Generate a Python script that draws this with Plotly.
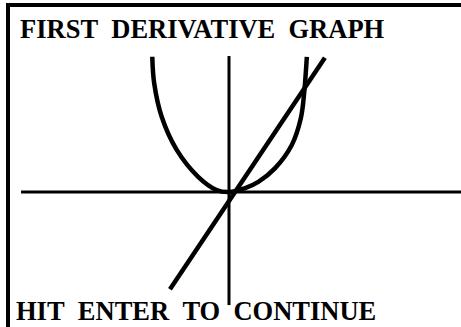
import plotly.graph_objects as go

# --- data (calculator window units) ---
# f(x): the curve (left to right)
curve_x = [-2.04, -1.99, -1.79, -1.39, -0.82, -0.33, 0.0, 0.43, 0.78, 1.22, 1.67, 1.91, 2.0, 2.07]
curve_y = [5.43, 4.37, 3.02, 1.69, 0.61, 0.08, 0.0, 0.16, 0.41, 0.95, 1.89, 2.96, 4.0, 5.43]

# f'(x): the first-derivative line (end points)
deriv_x = [-1.57, 2.55]
deriv_y = [-3.9, 5.39]

# axes extents
xaxis_x = [-5.53, 6.2]
xaxis_y = [0, 0]
yaxis_x = [0, 0]
yaxis_y = [-4.54, 5.46]

title_text = "FIRST\u00a0\u00a0DERIVATIVE\u00a0\u00a0GRAPH"
footer_text = "HIT\u00a0\u00a0ENTER\u00a0\u00a0TO\u00a0\u00a0CONTINUE"

X_RANGE = [-6.09, 6.17]
Y_RANGE = [-5.42, 7.71]

fig = go.Figure()
fig.add_trace(go.Scatter(x=xaxis_x, y=xaxis_y, mode="lines",
                         line=dict(color="black", width=3), hoverinfo="skip"))
fig.add_trace(go.Scatter(x=yaxis_x, y=yaxis_y, mode="lines",
                         line=dict(color="black", width=3), hoverinfo="skip"))
fig.add_trace(go.Scatter(x=curve_x, y=curve_y, mode="lines",
                         line=dict(color="black", width=4.5, shape="spline", smoothing=1.0)))
fig.add_trace(go.Scatter(x=deriv_x, y=deriv_y, mode="lines",
                         line=dict(color="black", width=4.5)))

W, H = 461, 327
# frame: thick top and left edges
fig.add_shape(type="line", xref="paper", yref="paper",
              x0=6 / W, x1=1, y0=1 - 5 / H, y1=1 - 5 / H,
              line=dict(color="black", width=4))
fig.add_shape(type="line", xref="paper", yref="paper",
              x0=8 / W, x1=8 / W, y0=1 - 3 / H, y1=0,
              line=dict(color="black", width=4))

font = dict(family="Liberation Serif", size=26.5, color="black", weight="bold")
fig.add_annotation(text=title_text, xref="paper", yref="paper",
                   x=18 / W, y=1 - 29 / H, xanchor="left", yanchor="middle",
                   showarrow=False, font=font)
fig.add_annotation(text=footer_text, xref="paper", yref="paper",
                   x=15 / W, y=0, xanchor="left", yanchor="bottom",
                   borderpad=0, showarrow=False, font=font)

fig.update_layout(
    width=W, height=H,
    margin=dict(l=0, r=0, t=0, b=0),
    paper_bgcolor="white", plot_bgcolor="white",
    showlegend=False,
    xaxis=dict(visible=False, range=X_RANGE, fixedrange=True),
    yaxis=dict(visible=False, range=Y_RANGE, fixedrange=True),
)

fig.write_html("out.html", config={"displayModeBar": False},
               post_script="document.body.style.margin='0';document.body.style.overflow='hidden';")
